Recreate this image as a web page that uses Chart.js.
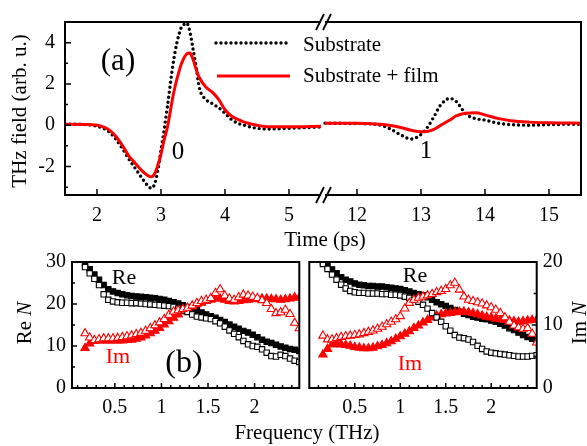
<!DOCTYPE html>
<html>
<head>
<meta charset="utf-8">
<script src="https://cdn.jsdelivr.net/npm/chart.js@4.4.1/dist/chart.umd.min.js"></script>
<style>
    body { margin: 0; background: #fff; }
    #fig { position: relative; width: 587px; height: 446px; background: #fff; overflow: hidden; }
    canvas { position: absolute; left: 0; }
</style>
</head>
<body>
<div id="fig">
    <canvas id="pulsos" width="587" height="260" style="top:0"></canvas>
    <canvas id="nIzq" width="587" height="206" style="top:240px"></canvas>
    <canvas id="nDer" width="587" height="206" style="top:240px"></canvas>
</div>
<script>
const FONT = '"Liberation Serif", "Times New Roman", serif';

// ---- (a) campo THz en el tiempo (ps) ----
const timeLeft = [1.5, 1.8, 2.0, 2.1, 2.2, 2.3, 2.4, 2.5, 2.6, 2.7, 2.8, 2.85, 2.9, 2.95, 3.0, 3.05, 3.1, 3.2, 3.3, 3.35,
                  3.4, 3.45, 3.5, 3.55, 3.6, 3.7, 3.8, 3.9, 4.0, 4.1, 4.2, 4.3, 4.5, 4.7, 5.0, 5.5];
const substrateLeft = [0.05, 0.04, -0.05, -0.15, -0.35, -0.7, -1.15, -1.65, -2.1, -2.55, -2.95, -3.05, -2.85, -2.2, -1.2, -0.2, 0.9, 3.2, 4.6, 4.85,
                       4.95, 4.55, 3.7, 2.8, 1.8, 1.25, 1.05, 0.85, 0.58, 0.28, 0.1, 0.0, -0.15, -0.18, -0.15, -0.08];
const filmLeft = [0.05, 0.04, 0.0, -0.08, -0.25, -0.56, -1.0, -1.5, -1.85, -2.2, -2.45, -2.5, -2.35, -1.95, -1.4, -0.7, -0.1, 1.6, 2.8, 3.2,
                  3.45, 3.5, 3.2, 2.7, 2.3, 1.85, 1.6, 1.25, 0.75, 0.45, 0.28, 0.15, 0.0, -0.08, -0.08, -0.05];
const timeRight = [11.5, 12.0, 12.3, 12.5, 12.7, 12.85, 13.0, 13.1, 13.2, 13.3, 13.45, 13.55, 13.7, 13.85, 14.0, 14.2, 14.4, 14.7, 15.0, 15.5];
const substrateRight = [0.1, 0.08, 0.04, -0.15, -0.5, -0.67, -0.45, -0.1, 0.4, 0.95, 1.3, 1.15, 0.55, 0.32, 0.25, 0.1, 0.03, 0.0, 0.03, 0.05];
const filmRight = [0.1, 0.1, 0.06, 0.0, -0.12, -0.25, -0.32, -0.3, -0.2, -0.02, 0.25, 0.45, 0.58, 0.6, 0.5, 0.33, 0.22, 0.15, 0.12, 0.1];
const timeTicks = [2, 3, 4, 5, 12, 13, 14, 15];
const fieldTicks = [-2, 0, 2, 4];

// ---- (b) indice complejo N vs frecuencia (THz) ----
const freqLeft = [0.18, 0.23, 0.28, 0.33, 0.38, 0.43, 0.48, 0.53, 0.58, 0.63, 0.68, 0.73, 0.78, 0.83, 0.88, 0.93, 0.98, 1.03, 1.08, 1.13,
                  1.18, 1.23, 1.28, 1.33, 1.38, 1.43, 1.48, 1.53, 1.58, 1.63, 1.68, 1.73, 1.78, 1.83, 1.88, 1.93, 1.98, 2.03, 2.08, 2.13,
                  2.18, 2.23, 2.28, 2.33, 2.38, 2.43, 2.48];
const reFilledLeft = [29.5, 28.3, 27.0, 25.8, 24.5, 23.5, 23.0, 22.6, 22.3, 22.1, 21.9, 21.8, 21.7, 21.6, 21.5, 21.4, 21.2, 21.0, 20.7, 20.4,
                      20.1, 19.7, 19.3, 18.9, 18.5, 18.0, 17.5, 17.1, 16.7, 16.2, 15.7, 15.1, 14.6, 14.1, 13.6, 13.2, 12.7, 12.1, 11.5, 11.0,
                      10.7, 10.3, 9.9, 9.6, 9.3, 9.1, 8.8];
const reOpenLeft = [28.8, 27.3, 26.0, 24.5, 22.3, 21.0, 20.6, 20.4, 20.3, 20.3, 20.2, 20.2, 20.1, 20.0, 19.9, 19.8, 19.7, 19.6, 19.5, 19.3,
                    18.9, 18.5, 18.1, 17.5, 17.0, 16.8, 16.6, 16.4, 15.9, 15.4, 14.6, 13.7, 12.9, 12.1, 11.2, 10.4, 10.0, 9.8, 9.2, 8.4,
                    7.6, 7.5, 7.9, 7.6, 7.0, 6.5, 6.2];
const imFilledLeft = [9.5, 10.6, 11.2, 11.3, 11.3, 11.3, 11.3, 11.3, 11.3, 11.4, 11.5, 11.7, 12.0, 12.5, 13.0, 13.6, 14.3, 15.1, 15.9, 16.7,
                      17.5, 18.2, 18.8, 19.4, 19.9, 20.3, 20.7, 21.0, 21.3, 21.3, 21.0, 20.7, 20.6, 20.7, 20.9, 21.0, 21.1, 21.2, 21.3, 21.3,
                      21.2, 21.1, 21.0, 21.1, 21.3, 21.6, 21.5];
const imOpenLeft = [13.0, 12.0, 11.4, 11.6, 11.8, 11.8, 11.8, 11.9, 12.1, 12.3, 12.5, 12.8, 13.1, 13.6, 14.2, 14.9, 15.6, 16.4, 17.4, 18.2,
                    18.5, 18.8, 19.1, 19.6, 20.2, 20.7, 21.0, 21.4, 22.6, 23.5, 22.0, 21.3, 21.0, 21.6, 22.2, 22.0, 21.7, 21.4, 20.9, 20.2,
                    18.8, 17.8, 18.0, 18.6, 17.6, 15.5, 14.2];

const freqRight = [0.15, 0.2, 0.25, 0.3, 0.35, 0.4, 0.45, 0.5, 0.55, 0.6, 0.65, 0.7, 0.75, 0.8, 0.85, 0.9, 0.95, 1.0, 1.05, 1.1,
                   1.15, 1.2, 1.25, 1.3, 1.35, 1.4, 1.45, 1.5, 1.55, 1.6, 1.65, 1.7, 1.75, 1.8, 1.85, 1.9, 1.95, 2.0, 2.05, 2.1,
                   2.15, 2.2, 2.25, 2.3, 2.35, 2.4, 2.45, 2.5];
const reFilledRight = [20.0, 19.4, 18.8, 18.2, 17.6, 17.2, 16.9, 16.6, 16.4, 16.3, 16.2, 16.2, 16.1, 16.1, 16.0, 15.9, 15.8, 15.7, 15.5, 15.3,
                       15.1, 14.9, 14.7, 14.4, 14.0, 13.6, 13.3, 13.0, 12.7, 12.4, 12.1, 11.8, 11.6, 11.3, 11.2, 11.0, 10.9, 10.7, 10.5, 10.2,
                       9.9, 9.5, 9.2, 8.8, 8.4, 8.1, 7.8, 7.5];
const reOpenRight = [19.7, 18.9, 18.0, 17.2, 16.4, 15.8, 15.4, 15.2, 15.1, 15.1, 15.0, 15.0, 15.0, 14.9, 14.9, 14.8, 14.8, 14.7, 14.5, 14.3,
                     14.0, 13.7, 13.2, 12.6, 11.9, 11.2, 10.5, 9.8, 9.1, 8.4, 8.0, 7.9, 7.7, 7.3, 6.7, 6.2, 5.8, 5.6, 5.5, 5.4,
                     5.3, 5.2, 5.1, 5.0, 5.0, 5.0, 5.1, 5.2];
const imFilledRight = [5.3, 6.2, 6.9, 7.0, 6.9, 6.8, 6.7, 6.5, 6.4, 6.3, 6.3, 6.4, 6.6, 6.8, 7.1, 7.4, 7.8, 8.2, 8.6, 9.0,
                       9.5, 9.9, 10.4, 10.8, 11.2, 11.5, 11.7, 11.8, 11.9, 12.0, 12.1, 12.1, 12.0, 11.9, 11.7, 11.5, 11.3, 11.2, 11.0, 10.9,
                       10.8, 10.7, 10.6, 10.5, 10.6, 10.7, 10.8, 10.8];
const imOpenRight = [8.3, 7.7, 7.7, 7.9, 8.1, 8.2, 8.3, 8.4, 8.5, 8.7, 8.9, 9.1, 9.4, 9.7, 10.1, 10.5, 10.9, 11.4, 12.6, 13.5,
                     14.0, 14.3, 14.5, 14.7, 14.9, 15.2, 15.4, 15.7, 16.3, 16.7, 15.6, 14.5, 14.0, 13.8, 13.6, 13.4, 13.1, 12.8, 12.4, 11.9,
                     11.2, 10.5, 9.9, 9.6, 9.4, 9.5, 8.6, 7.2];
const freqTicks = [0.5, 1, 1.5, 2];
const reTicks = [0, 10, 20, 30];
const imTicks = [0, 10, 20];

// corte del eje de tiempo: 5.5 ps -> 11.5 ps con un hueco pequeño
const breakStart = 5.5, breakEnd = 11.5, gapUnits = 0.0625;
function toAxis(t) {
    return t > breakStart ? t - (breakEnd - breakStart) + gapUnits : t;
}

function pts(xs, ys, fx) {
    return xs.map((x, i) => ({ x: fx ? fx(x) : x, y: ys[i] }));
}

function font(size, italic) {
    return (italic ? 'italic ' : '') + size + 'px ' + FONT;
}

function texto(ctx, str, x, y, size, color) {
    ctx.font = font(size);
    ctx.fillStyle = color || '#000';
    ctx.textAlign = 'center';
    ctx.textBaseline = 'middle';
    ctx.fillText(str, x, y);
}

// texto vertical (de abajo hacia arriba) con partes en cursiva
function textoVertical(ctx, partes, x, y, size) {
    ctx.save();
    ctx.translate(x, y);
    ctx.rotate(-Math.PI / 2);
    ctx.textAlign = 'left';
    ctx.textBaseline = 'middle';
    ctx.fillStyle = '#000';
    let total = 0;
    partes.forEach(p => { ctx.font = font(size, p.italic); p.w = ctx.measureText(p.t).width; total += p.w; });
    let cx = -total / 2;
    partes.forEach(p => { ctx.font = font(size, p.italic); ctx.fillText(p.t, cx, 0); cx += p.w; });
    ctx.restore();
}

function marcas(ctx, scale, values, len, side, a) {
    ctx.beginPath();
    values.forEach(v => {
        const p = scale.getPixelForValue(v);
        if (side === 'bottom') { ctx.moveTo(p, a.bottom); ctx.lineTo(p, a.bottom - len); }
        if (side === 'left') { ctx.moveTo(a.left, p); ctx.lineTo(a.left + len, p); }
        if (side === 'right') { ctx.moveTo(a.right, p); ctx.lineTo(a.right - len, p); }
    });
    ctx.stroke();
}

function menores(desde, hasta, paso, mayores) {
    const out = [];
    for (let v = desde; v <= hasta + 1e-9; v += paso) {
        const r = Math.round(v * 100) / 100;
        if (!mayores.some(m => Math.abs(m - r) < 1e-6)) out.push(r);
    }
    return out;
}

const tickFont = { family: FONT, size: 20 };

// ---------- panel (a) ----------
const decorPulsos = {
    id: 'decorPulsos',
    afterDraw(chart) {
        const ctx = chart.ctx, a = chart.chartArea, x = chart.scales.x, y = chart.scales.y;
        const g1 = x.getPixelForValue(breakStart), g2 = x.getPixelForValue(toAxis(breakEnd));
        ctx.save();
        ctx.strokeStyle = '#000';
        ctx.lineWidth = 2;
        ctx.beginPath();
        ctx.moveTo(a.left, a.top); ctx.lineTo(g1, a.top);
        ctx.moveTo(g2, a.top); ctx.lineTo(a.right, a.top);
        ctx.moveTo(a.left, a.bottom); ctx.lineTo(g1, a.bottom);
        ctx.moveTo(g2, a.bottom); ctx.lineTo(a.right, a.bottom);
        ctx.moveTo(a.left, a.top - 1); ctx.lineTo(a.left, a.bottom + 1);
        ctx.moveTo(a.right, a.top - 1); ctx.lineTo(a.right, a.bottom + 1);
        ctx.stroke();

        // marcas de corte //
        ctx.lineWidth = 1.8;
        ctx.beginPath();
        [a.top, a.bottom].forEach(yy => {
            [g1 - 1, g2 + 2].forEach(xx => { ctx.moveTo(xx - 4, yy + 8); ctx.lineTo(xx + 4, yy - 8); });
        });
        ctx.stroke();

        ctx.lineWidth = 1.5;
        marcas(ctx, y, fieldTicks, 6, 'left', a);
        marcas(ctx, y, menores(-3, 5, 1, fieldTicks), 3, 'left', a);
        marcas(ctx, x, timeTicks.map(toAxis), 6, 'bottom', a);

        // leyenda
        ctx.lineCap = 'round';
        ctx.setLineDash([0, 5]);
        ctx.lineWidth = 3.4;
        ctx.beginPath(); ctx.moveTo(216, 43); ctx.lineTo(288, 43); ctx.stroke();
        ctx.setLineDash([]);
        ctx.lineCap = 'butt';
        ctx.strokeStyle = '#ff0000';
        ctx.lineWidth = 3;
        ctx.beginPath(); ctx.moveTo(217, 76); ctx.lineTo(290, 76); ctx.stroke();
        ctx.font = font(21);
        ctx.fillStyle = '#000';
        ctx.textAlign = 'left';
        ctx.textBaseline = 'middle';
        ctx.fillText('Substrate', 303, 45);
        ctx.fillText('Substrate + film', 303, 76);

        texto(ctx, '(a)', 118, 62, 31);
        texto(ctx, '0', 178, 152, 25);
        texto(ctx, '1', 426, 151, 25);

        textoVertical(ctx, [{ t: 'THz field (arb. u.)' }], 20, 111, 21);
        texto(ctx, 'Time (ps)', 325, 240, 21);
        ctx.restore();
    }
};

new Chart(document.getElementById('pulsos'), {
    type: 'line',
    data: {
        datasets: [
            { data: pts(timeLeft, substrateLeft), borderColor: '#000', borderWidth: 3.4, borderDash: [0, 5], borderCapStyle: 'round',
              pointRadius: 0, cubicInterpolationMode: 'monotone', order: 2 },
            { data: pts(timeRight, substrateRight, toAxis), borderColor: '#000', borderWidth: 3.4, borderDash: [0, 5], borderCapStyle: 'round',
              pointRadius: 0, cubicInterpolationMode: 'monotone', order: 2 },
            { data: pts(timeLeft, filmLeft), borderColor: '#ff0000', borderWidth: 3,
              pointRadius: 0, cubicInterpolationMode: 'monotone', order: 1 },
            { data: pts(timeRight, filmRight, toAxis), borderColor: '#ff0000', borderWidth: 3,
              pointRadius: 0, cubicInterpolationMode: 'monotone', order: 1 }
        ]
    },
    options: {
        responsive: false,
        animation: false,
        layout: { padding: { top: 19, right: 6, left: 0, bottom: 0 } },
        plugins: { legend: { display: false }, tooltip: { enabled: false } },
        scales: {
            x: {
                type: 'linear', min: 1.5, max: toAxis(15.5),
                grid: { display: false, drawTicks: false }, border: { display: false },
                ticks: { font: tickFont, color: '#000', padding: 9, autoSkip: false, maxRotation: 0,
                         callback: (v, i) => String(timeTicks[i]) },
                afterBuildTicks: s => { s.ticks = timeTicks.map(t => ({ value: toAxis(t) })); },
                afterFit: s => { s.height = 65; }
            },
            y: {
                type: 'linear', min: -3.38, max: 5.0,
                grid: { display: false, drawTicks: false }, border: { display: false },
                ticks: { font: tickFont, color: '#000', padding: 10, autoSkip: false },
                afterBuildTicks: s => { s.ticks = fieldTicks.map(v => ({ value: v })); },
                afterFit: s => { s.width = 65; }
            }
        }
    },
    plugins: [decorPulsos]
});

// ---------- panel (b) ----------
function seriesN(freq, reF, reO, imF, imO) {
    const base = { showLine: false, clip: 0, pointBorderWidth: 1.1 };
    return [
        Object.assign({}, base, { data: pts(freq, imO), pointStyle: 'triangle', pointRadius: 4.8,
            pointBackgroundColor: '#fff', pointBorderColor: '#ff0000', order: 1 }),
        Object.assign({}, base, { data: pts(freq, reO), pointStyle: 'rect', pointRadius: 3.8,
            pointBackgroundColor: '#fff', pointBorderColor: '#000', order: 2 }),
        Object.assign({}, base, { data: pts(freq, imF), pointStyle: 'triangle', pointRadius: 4.8,
            pointBackgroundColor: '#ff0000', pointBorderColor: '#ff0000', order: 3 }),
        Object.assign({}, base, { data: pts(freq, reF), pointStyle: 'rect', pointRadius: 3.8,
            pointBackgroundColor: '#000', pointBorderColor: '#000', order: 4 })
    ];
}

function opcionesN(xmin, xmax, ymax, yTicks, lado, padding, anchoY) {
    return {
        responsive: false,
        animation: false,
        layout: { padding: padding },
        plugins: { legend: { display: false }, tooltip: { enabled: false } },
        scales: {
            x: {
                type: 'linear', min: xmin, max: xmax,
                grid: { display: false, drawTicks: false }, border: { display: false },
                ticks: { font: tickFont, color: '#000', padding: 8, autoSkip: false, maxRotation: 0,
                         callback: v => String(v) },
                afterBuildTicks: s => { s.ticks = freqTicks.map(v => ({ value: v })); },
                afterFit: s => { s.height = 58; }
            },
            y: {
                type: 'linear', position: lado, min: 0, max: ymax,
                grid: { display: false, drawTicks: false }, border: { display: false },
                ticks: { font: tickFont, color: '#000', padding: 6, autoSkip: false, callback: v => String(v) },
                afterBuildTicks: s => { s.ticks = yTicks.map(v => ({ value: v })); },
                afterFit: s => { s.width = anchoY; }
            }
        }
    };
}

function marco(ctx, a) {
    ctx.strokeStyle = '#000';
    ctx.lineWidth = 2;
    ctx.strokeRect(a.left, a.top, a.right - a.left, a.bottom - a.top);
}

const decorIzq = {
    id: 'decorIzq',
    afterDraw(chart) {
        const ctx = chart.ctx, a = chart.chartArea, x = chart.scales.x, y = chart.scales.y;
        ctx.save();
        marco(ctx, a);
        ctx.lineWidth = 1.5;
        marcas(ctx, y, reTicks, 5, 'left', a);
        marcas(ctx, y, menores(5, 25, 10, reTicks), 3, 'left', a);
        marcas(ctx, x, freqTicks, 5, 'bottom', a);
        marcas(ctx, x, menores(0.1, 2.4, 0.1, freqTicks), 3, 'bottom', a);
        texto(ctx, 'Re', 124, 38, 22);
        texto(ctx, 'Im', 118, 117, 22, '#ff0000');
        texto(ctx, '(b)', 184, 124, 32);
        textoVertical(ctx, [{ t: 'Re ' }, { t: 'N', italic: true }], 25, 83, 21);
        texto(ctx, 'Frequency (THz)', 307, 193, 21);
        ctx.restore();
    }
};

const decorDer = {
    id: 'decorDer',
    afterDraw(chart) {
        const ctx = chart.ctx, a = chart.chartArea, x = chart.scales.x, y = chart.scales.y;
        ctx.save();
        marco(ctx, a);
        ctx.lineWidth = 1.5;
        marcas(ctx, y, imTicks, 5, 'right', a);
        marcas(ctx, y, menores(5, 15, 10, imTicks), 3, 'right', a);
        marcas(ctx, x, freqTicks, 5, 'bottom', a);
        marcas(ctx, x, menores(0.1, 2.4, 0.1, freqTicks), 3, 'bottom', a);
        texto(ctx, 'Re', 415, 36, 22);
        texto(ctx, 'Im', 410, 124, 22, '#ff0000');
        textoVertical(ctx, [{ t: 'Im ' }, { t: 'N', italic: true }], 580, 83, 21);
        ctx.restore();
    }
};

new Chart(document.getElementById('nIzq'), {
    type: 'scatter',
    data: { datasets: seriesN(freqLeft, reFilledLeft, reOpenLeft, imFilledLeft, imOpenLeft) },
    options: opcionesN(0.04, 2.48, 30, reTicks, 'left', { top: 22, right: 287.7, left: 0, bottom: 0 }, 72),
    plugins: [decorIzq]
});

new Chart(document.getElementById('nDer'), {
    type: 'scatter',
    data: { datasets: seriesN(freqRight, reFilledRight, reOpenRight, imFilledRight, imOpenRight) },
    options: opcionesN(0, 2.5, 20, imTicks, 'right', { top: 22, right: 0, left: 309.3, bottom: 0 }, 50.3),
    plugins: [decorDer]
});
</script>
</body>
</html>
